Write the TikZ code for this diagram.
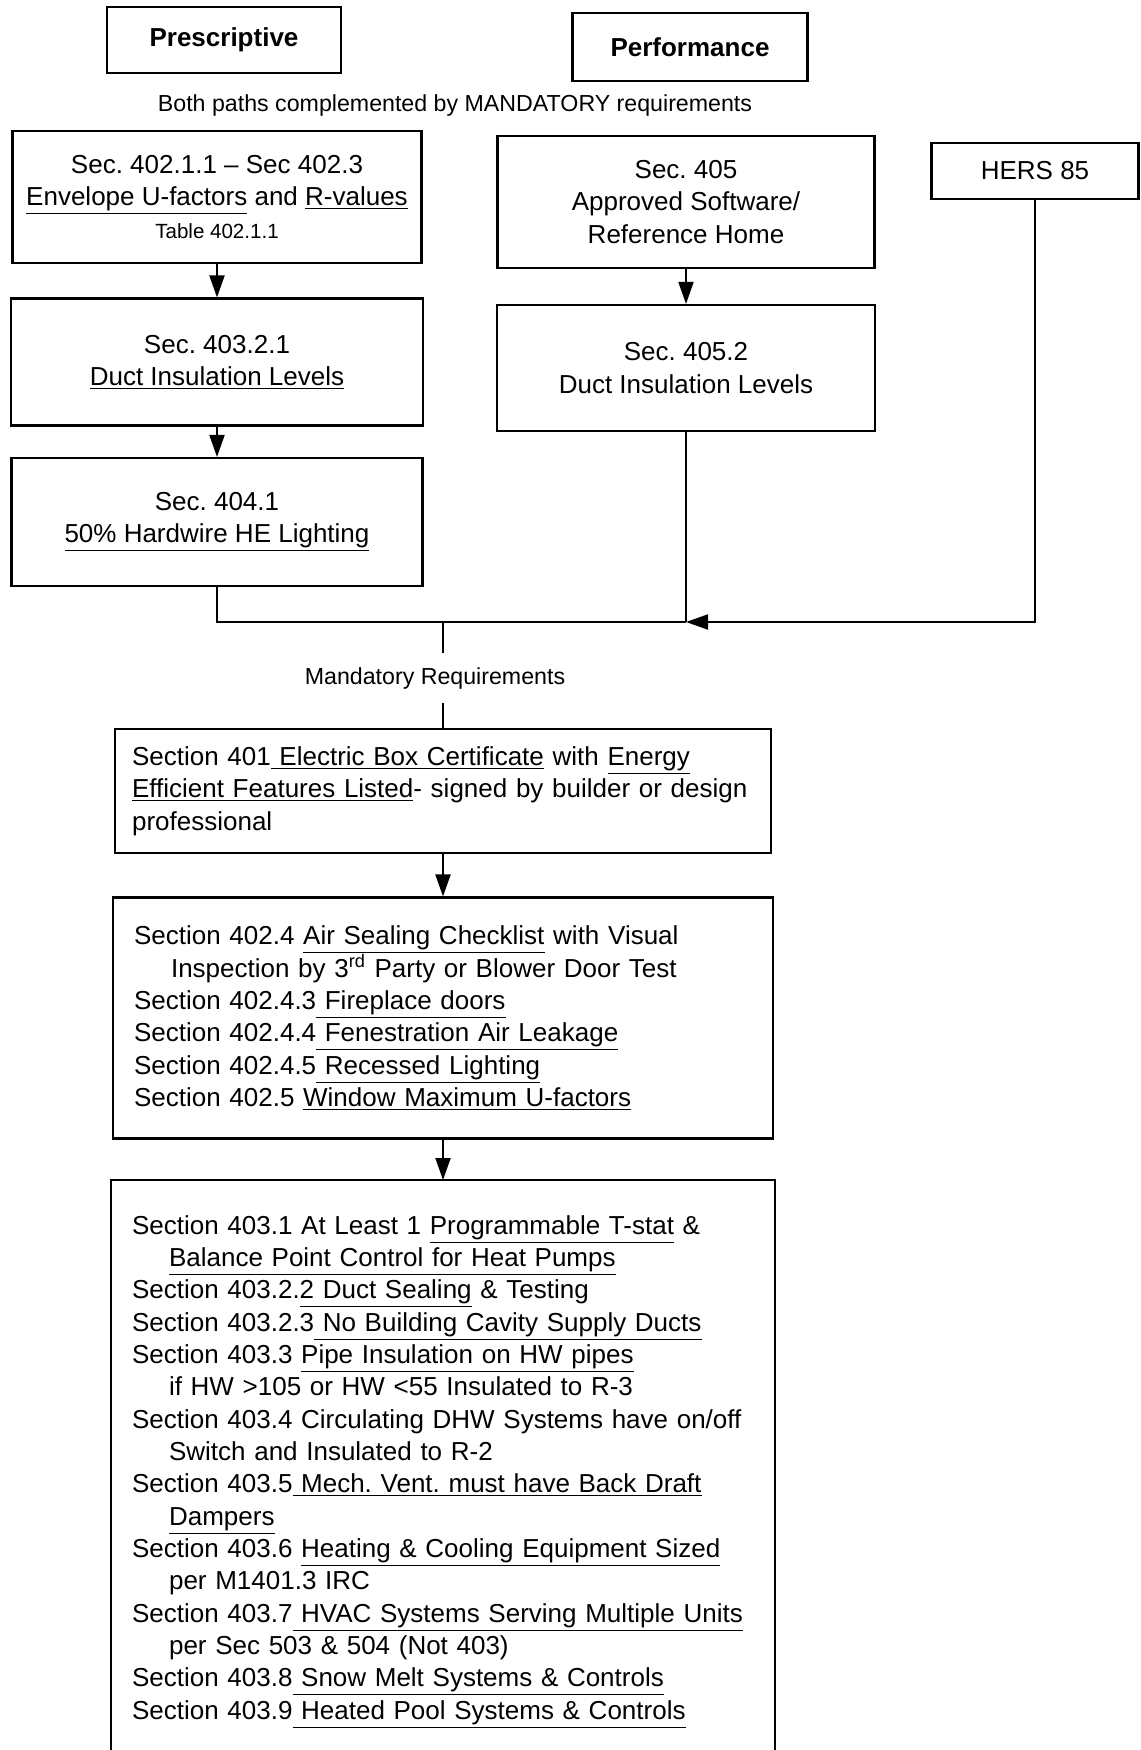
\documentclass[tikz,border=0pt]{standalone}
\usepackage{fontspec}
\setmainfont{Liberation Sans}
\usetikzlibrary{arrows.meta}
\frenchspacing

\newcommand{\mainsize}{\fontsize{14.8pt}{18.4pt}\selectfont}
\newcommand{\notesize}{\fontsize{13.2pt}{16pt}\selectfont}
\newcommand{\tabsize}{\fontsize{11.7pt}{14pt}\selectfont}
\newcommand{\undl}[1]{\underline{#1}}
\newcommand{\ind}{\hspace*{0.74cm}}

\tikzset{
  frame/.style={line width=1.2pt},
  box/.style={draw, frame, inner sep=0pt, align=center, font=\mainsize},
  link/.style={line width=1.1pt},
  arr/.style={link, -{Triangle[length=0.44cm, width=0.3cm]}}
}

\begin{document}
\begin{tikzpicture}[x=0.02cm, y=-0.02cm]
        \useasboundingbox (0,0) rectangle (1141,1750);
        % two paths
        \node[box, font=\mainsize\bfseries, minimum width=4.68cm, minimum height=1.32cm] (pres) at (224,40) {Prescriptive};
        \node[box, font=\mainsize\bfseries, minimum width=4.70cm, minimum height=1.36cm] (perf) at (690,47) {Performance};
        \node[font=\notesize] (both) at (455,106) {Both paths complemented by MANDATORY requirements};
        % prescriptive column
        \node[box, minimum width=8.18cm, minimum height=2.64cm] (env) at (217,197) {Sec. 402.1.1 -- Sec 402.3\\\undl{Envelope U-factors} and \undl{R-values}\\{\tabsize Table 402.1.1}};
        \node[box, minimum width=8.24cm, minimum height=2.54cm] (ductp) at (217,362) {Sec. 403.2.1\\\undl{Duct Insulation Levels}};
        \node[box, minimum width=8.22cm, minimum height=2.56cm] (light) at (217,522) {Sec. 404.1\\\undl{50\% Hardwire HE Lighting}};
        % performance column
        \node[box, minimum width=7.54cm, minimum height=2.64cm] (sw) at (686,202) {Sec. 405\\Approved Software/\\Reference Home};
        \node[box, minimum width=7.56cm, minimum height=2.52cm] (ductq) at (686,368) {Sec. 405.2\\Duct Insulation Levels};
        \node[box, minimum width=4.14cm, minimum height=1.12cm] (hers) at (1035,171) {HERS 85};
        \coordinate (join) at (686,622);
        % mandatory part
        \node[font=\notesize, minimum height=1cm, inner sep=0pt] (mand) at (435,678) {Mandatory Requirements};
        \node[box, align=left, text width=12.44cm, minimum width=13.12cm, minimum height=2.48cm] (cert) at (443,791) {Section 401\undl{ Electric Box Certificate} with \undl{Energy}\\\undl{Efficient Features Listed}- signed by builder or design\\professional};
        \node[box, align=left, text width=12.36cm, minimum width=13.2cm, minimum height=4.82cm] (air) at (443,1018) {Section 402.4 \undl{Air Sealing Checklist} with Visual\\\ind Inspection by 3\textsuperscript{rd} Party or Blower Door Test\\Section 402.4.3\undl{ Fireplace doors}\\Section 402.4.4\undl{ Fenestration Air Leakage}\\Section 402.4.5\undl{ Recessed Lighting}\\Section 402.5 \undl{Window Maximum U-factors}};
        \node[align=left, font=\mainsize, text width=12.44cm, inner xsep=0.42cm, inner ysep=0.7cm, anchor=north] (mech) at (443,1180) {Section 403.1 At Least 1 \undl{Programmable T-stat} \&\\
\ind\undl{Balance Point Control for Heat Pumps}\\
Section 403.2.\undl{2 Duct Sealing} \& Testing\\
Section 403.2.3\undl{ No Building Cavity Supply Ducts}\\
Section 403.3 \undl{Pipe Insulation on HW pipes}\\
\ind if HW >105 or HW <55 Insulated to R-3\\
Section 403.4 Circulating DHW Systems have on/off\\
\ind Switch and Insulated to R-2\\
Section 403.5\undl{ Mech. Vent. must have Back Draft}\\
\ind\undl{Dampers}\\
Section 403.6 \undl{Heating \& Cooling Equipment Sized}\\
\ind per M1401.3 IRC\\
Section 403.7\undl{ HVAC Systems Serving Multiple Units}\\
\ind per Sec 503 \& 504 (Not 403)\\
Section 403.8\undl{ Snow Melt Systems \& Controls}\\
Section 403.9\undl{ Heated Pool Systems \& Controls}};
        \coordinate (pagebot) at (443,1760);
        \draw[frame] (mech.north west |- pagebot) -- (mech.north west) -- (mech.north east) -- (mech.north east |- pagebot);
        % connectors
        \draw[arr] (env) -- (ductp);
        \draw[arr] (ductp) -- (light);
        \draw[arr] (sw) -- (ductq);
        \draw[link] (light) |- (join);
        \draw[link] (ductq) -- (join);
        \draw[arr] (hers) |- (join);
        \draw[link] (cert.north |- join) -- (mand.north -| cert.north);
        \draw[link] (mand.south -| cert.north) -- (cert);
        \draw[arr] (cert) -- (air);
        \draw[arr] (air) -- (mech.north);
\end{tikzpicture}
\end{document}
